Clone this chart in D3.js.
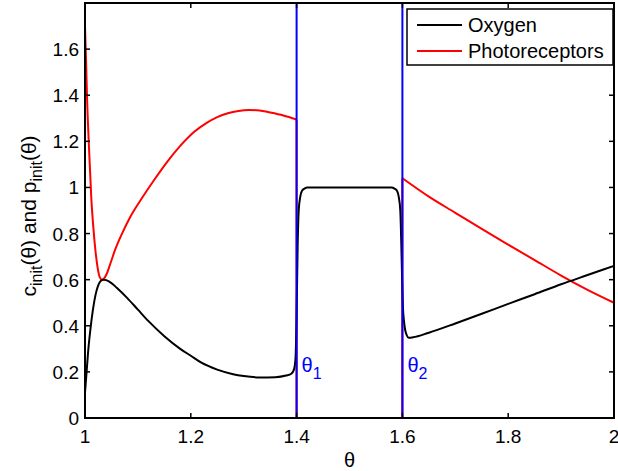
<!DOCTYPE html>
<html>
<head>
<meta charset="utf-8">
<script src="https://cdn.jsdelivr.net/npm/d3@7"></script>
<style>
  html, body { margin: 0; padding: 0; background: #fff; }
  svg { display: block; font-family: "Liberation Sans", Arial, Helvetica, sans-serif; }
</style>
</head>
<body>
<svg id="chart" width="618" height="471"></svg>
<script>
// Oxygen concentration over the whole domain
const oxygenTheta  = [1.000, 1.003, 1.006, 1.010, 1.015, 1.020, 1.025, 1.030, 1.035, 1.040, 1.050, 1.060, 1.080, 1.100, 1.120, 1.150, 1.180, 1.200, 1.220, 1.250, 1.280, 1.300, 1.330, 1.360, 1.380, 1.390, 1.395, 1.398, 1.400, 1.402, 1.404, 1.407, 1.410, 1.415, 1.420, 1.500, 1.580, 1.585, 1.590, 1.593, 1.596, 1.598, 1.600, 1.601, 1.603, 1.605, 1.608, 1.612, 1.620, 1.650, 1.700, 1.750, 1.800, 1.850, 1.900, 1.950, 2.000];
const oxygenValues = [0.11, 0.20, 0.29, 0.38, 0.47, 0.535, 0.575, 0.595, 0.600, 0.598, 0.585, 0.565, 0.520, 0.470, 0.420, 0.355, 0.300, 0.270, 0.240, 0.210, 0.190, 0.182, 0.176, 0.177, 0.184, 0.192, 0.210, 0.260, 0.450, 0.750, 0.900, 0.960, 0.985, 0.995, 1.000, 1.000, 1.000, 0.995, 0.985, 0.960, 0.900, 0.750, 0.550, 0.480, 0.420, 0.385, 0.360, 0.348, 0.350, 0.370, 0.410, 0.452, 0.495, 0.537, 0.580, 0.620, 0.660];

// Photoreceptor density, left of θ1
const photoThetaLeft  = [1.000, 1.002, 1.004, 1.008, 1.012, 1.016, 1.020, 1.024, 1.028, 1.032, 1.036, 1.040, 1.048, 1.057, 1.070, 1.085, 1.108, 1.130, 1.155, 1.180, 1.206, 1.230, 1.250, 1.270, 1.290, 1.310, 1.330, 1.350, 1.375, 1.400];
const photoValuesLeft = [1.70, 1.55, 1.38, 1.15, 0.95, 0.82, 0.72, 0.65, 0.61, 0.60, 0.605, 0.62, 0.67, 0.73, 0.80, 0.87, 0.955, 1.03, 1.11, 1.180, 1.240, 1.280, 1.305, 1.322, 1.332, 1.336, 1.334, 1.325, 1.312, 1.295];

// Photoreceptor density, right of θ2
const photoThetaRight  = [1.60, 1.65, 1.70, 1.75, 1.80, 1.85, 1.90, 1.95, 2.00];
const photoValuesRight = [1.04, 0.96, 0.89, 0.82, 0.752, 0.685, 0.618, 0.556, 0.500];

// Photoreceptors vanish between the two boundaries
const photoGapTheta  = [1.4, 1.4, 1.6, 1.6];
const photoGapValues = [1.295, 0, 0, 1.04];

const boundaryTheta  = [1.4, 1.6];
const boundaryLabels = ["1", "2"];

const xTicks = [1, 1.2, 1.4, 1.6, 1.8, 2];
const yTicks = [0, 0.2, 0.4, 0.6, 0.8, 1, 1.2, 1.4, 1.6];

const legendNames  = ["Oxygen", "Photoreceptors"];
const legendColors = ["#000000", "#ff0000"];

const svg = d3.select("#chart");
const plotLeft = 85, plotRight = 614, plotTop = 3, plotBottom = 418;

const x = d3.scaleLinear().domain([1, 2]).range([plotLeft, plotRight]);
const y = d3.scaleLinear().domain([0, 1.8]).range([plotBottom, plotTop]);

const zip = (ts, vs) => ts.map((t, i) => [t, vs[i]]);
const smooth = d3.line().x(d => x(d[0])).y(d => y(d[1])).curve(d3.curveMonotoneX);
const straight = d3.line().x(d => x(d[0])).y(d => y(d[1]));

const plot = svg.append("g");

// Photoreceptor curve (red)
plot.append("path").attr("d", straight(zip(photoGapTheta, photoGapValues)))
  .attr("fill", "none").attr("stroke", "#ff0000").attr("stroke-width", 2);
plot.append("path").attr("d", smooth(zip(photoThetaLeft, photoValuesLeft)))
  .attr("fill", "none").attr("stroke", "#ff0000").attr("stroke-width", 2);
plot.append("path").attr("d", smooth(zip(photoThetaRight, photoValuesRight)))
  .attr("fill", "none").attr("stroke", "#ff0000").attr("stroke-width", 2);

// Oxygen curve (black)
plot.append("path").attr("d", smooth(zip(oxygenTheta, oxygenValues)))
  .attr("fill", "none").attr("stroke", "#000000").attr("stroke-width", 2)
  .attr("stroke-linejoin", "round");

// Boundary lines θ1 and θ2
boundaryTheta.forEach((t, i) => {
  plot.append("line")
    .attr("x1", x(t)).attr("x2", x(t)).attr("y1", y(1.8)).attr("y2", y(0))
    .attr("stroke", "#0000ff").attr("stroke-width", 2);
  const lab = plot.append("text")
    .attr("x", x(t) + 5).attr("y", y(0.2))
    .attr("fill", "#0000ff").attr("font-size", 20);
  lab.append("tspan").text("θ");
  lab.append("tspan").attr("dy", 7).attr("font-size", 16).text(boundaryLabels[i]);
});

// Axes box with inward ticks on all sides
const axes = svg.append("g");
axes.append("rect")
  .attr("x", plotLeft).attr("y", plotTop).attr("width", plotRight - plotLeft).attr("height", plotBottom - plotTop)
  .attr("fill", "none").attr("stroke", "#000").attr("stroke-width", 2);

const tickLen = 5;
xTicks.forEach(t => {
  axes.append("line").attr("x1", x(t)).attr("x2", x(t)).attr("y1", plotBottom).attr("y2", plotBottom - tickLen)
    .attr("stroke", "#000").attr("stroke-width", 1.5);
  axes.append("line").attr("x1", x(t)).attr("x2", x(t)).attr("y1", plotTop).attr("y2", plotTop + tickLen)
    .attr("stroke", "#000").attr("stroke-width", 1.5);
  axes.append("text").attr("x", x(t)).attr("y", plotBottom + 25)
    .attr("text-anchor", "middle").attr("font-size", 19).text(d3.format("~g")(t));
});
yTicks.forEach(v => {
  axes.append("line").attr("x1", plotLeft).attr("x2", plotLeft + tickLen).attr("y1", y(v)).attr("y2", y(v))
    .attr("stroke", "#000").attr("stroke-width", 1.5);
  axes.append("line").attr("x1", plotRight).attr("x2", plotRight - tickLen).attr("y1", y(v)).attr("y2", y(v))
    .attr("stroke", "#000").attr("stroke-width", 1.5);
  axes.append("text").attr("x", plotLeft - 6).attr("y", y(v) + 7)
    .attr("text-anchor", "end").attr("font-size", 19).text(d3.format("~g")(v));
});

// Axis titles
svg.append("text").attr("x", (plotLeft + plotRight) / 2).attr("y", 467)
  .attr("text-anchor", "middle").attr("font-size", 20).text("θ");

const yTitle = svg.append("text")
  .attr("transform", "translate(36, 216) rotate(-90)")
  .attr("text-anchor", "middle").attr("font-size", 21);
yTitle.append("tspan").text("c");
yTitle.append("tspan").attr("dy", 6).attr("font-size", 16).text("init");
yTitle.append("tspan").attr("dy", -6).text("(θ) and p");
yTitle.append("tspan").attr("dy", 6).attr("font-size", 16).text("init");
yTitle.append("tspan").attr("dy", -6).text("(θ)");

// Legend
const legend = svg.append("g");
legend.append("rect").attr("x", 407).attr("y", 9).attr("width", 206).attr("height", 56)
  .attr("fill", "#fff").attr("stroke", "#000").attr("stroke-width", 1.5);
legendNames.forEach((name, i) => {
  const ly = 25 + i * 26;
  legend.append("line").attr("x1", 417).attr("x2", 462).attr("y1", ly).attr("y2", ly)
    .attr("stroke", legendColors[i]).attr("stroke-width", 2);
  legend.append("text").attr("x", 468).attr("y", ly + 7).attr("font-size", 20).text(name);
});
</script>
</body>
</html>
